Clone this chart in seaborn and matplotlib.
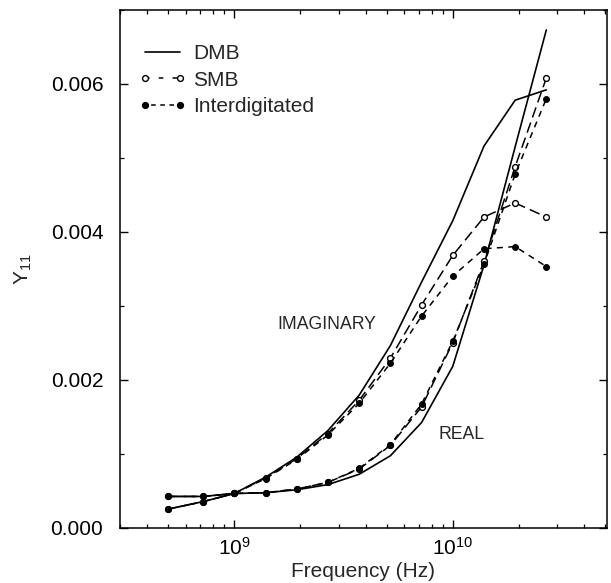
import numpy as np
import pandas as pd
import matplotlib
matplotlib.use("Agg")
import matplotlib.pyplot as plt
from matplotlib.lines import Line2D
from matplotlib.ticker import LogLocator, MultipleLocator, FormatStrFormatter, NullFormatter
import seaborn as sns

# ---- data ----
freq_hz = np.array([0.5, 0.72, 1.0, 1.39, 1.93, 2.68, 3.73, 5.18, 7.2, 10.0, 13.9, 19.3, 26.8]) * 1e9
dmb_real = np.array([0.42, 0.42, 0.46, 0.47, 0.51, 0.58, 0.72, 0.97, 1.42, 2.18, 3.55, 5.15, 6.73]) * 1e-3
dmb_imag = np.array([0.25, 0.35, 0.46, 0.68, 0.95, 1.31, 1.79, 2.46, 3.32, 4.15, 5.16, 5.78, 5.92]) * 1e-3
smb_real = np.array([0.42, 0.42, 0.46, 0.47, 0.52, 0.61, 0.79, 1.11, 1.63, 2.50, 3.60, 4.88, 6.08]) * 1e-3
smb_imag = np.array([0.25, 0.35, 0.46, 0.67, 0.93, 1.27, 1.72, 2.29, 3.01, 3.68, 4.20, 4.39, 4.20]) * 1e-3
int_real = np.array([0.42, 0.42, 0.46, 0.47, 0.52, 0.61, 0.80, 1.12, 1.67, 2.52, 3.56, 4.78, 5.80]) * 1e-3
int_imag = np.array([0.25, 0.35, 0.46, 0.66, 0.92, 1.25, 1.68, 2.22, 2.86, 3.40, 3.77, 3.80, 3.53]) * 1e-3

series_names = ["DMB", "SMB", "Interdigitated"]
y_ticks = [0.000, 0.002, 0.004, 0.006]
x_label = "Frequency (Hz)"
y_label = "Y$_{11}$"

sns.set_theme(style="ticks")
plt.rcParams["font.family"] = ["Liberation Sans", "DejaVu Sans"]
plt.rcParams["mathtext.fontset"] = "custom"
plt.rcParams["mathtext.rm"] = "Liberation Sans"
plt.rcParams["mathtext.it"] = "Liberation Sans:italic"
plt.rcParams["mathtext.bf"] = "Liberation Sans:bold"

fig = plt.figure(figsize=(6.11, 5.83), dpi=100)
ax = fig.add_axes([120 / 611, 1 - 527.5 / 583, (607 - 120) / 611, (527.5 - 10) / 583])

styles = {
    "DMB": dict(color="black", linewidth=1.2, linestyle="-"),
    "SMB": dict(color="black", linewidth=1.1, linestyle=(0, (7, 3.5)), marker="o",
                markersize=4.2, markerfacecolor="white", markeredgecolor="black", markeredgewidth=1.0),
    "Interdigitated": dict(color="black", linewidth=1.1, linestyle=(0, (4, 3.5)), marker="o",
                           markersize=4.2, markerfacecolor="black", markeredgecolor="black"),
}

data = {
    "DMB": (dmb_real, dmb_imag),
    "SMB": (smb_real, smb_imag),
    "Interdigitated": (int_real, int_imag),
}

for name in series_names:
    re_vals, im_vals = data[name]
    for part, vals in (("real", re_vals), ("imag", im_vals)):
        df = pd.DataFrame({"f": freq_hz, "y": vals})
        sns.lineplot(data=df, x="f", y="y", ax=ax, estimator=None, sort=False,
                     legend=False, **styles[name])

ax.set_xscale("log")
ax.set_xlim(3e8, 5.08e10)
ax.set_ylim(0, 0.007)
ax.set_yticks(y_ticks)
ax.yaxis.set_minor_locator(MultipleLocator(0.001))
ax.yaxis.set_major_formatter(FormatStrFormatter("%.3f"))
ax.xaxis.set_major_locator(LogLocator(base=10, numticks=10))
ax.xaxis.set_minor_locator(LogLocator(base=10, subs=np.arange(2, 10), numticks=20))
ax.xaxis.set_minor_formatter(NullFormatter())

ax.tick_params(which="both", direction="in", top=True, right=True, colors="black")
ax.tick_params(axis="y", which="major", length=6, width=1.0, pad=12, labelsize=15)
ax.tick_params(axis="x", which="major", length=6, width=1.0, pad=7, labelsize=15)
ax.tick_params(which="minor", length=3, width=0.9)
for s in ax.spines.values():
    s.set_linewidth(1.1)
    s.set_color("black")

ax.set_xlabel(x_label, fontsize=15, labelpad=2)
ax.set_ylabel(y_label, fontsize=15, labelpad=12)

ax.text(2.64e9, 2.75e-3, "IMAGINARY", ha="center", va="center", fontsize=12.7)
ax.text(1.1e10, 1.26e-3, "REAL", ha="center", va="center", fontsize=12.7)

handles = [Line2D([], [], **styles[n]) for n in series_names]
handles[1].set_linestyle((0, (3, 6)))
handles[2].set_linestyle((2, (3, 3)))
ax.legend(handles, series_names, loc="upper left", frameon=False, fontsize=15,
          numpoints=2, handlelength=2.3, handletextpad=0.3, labelspacing=0.35,
          borderaxespad=0.5, bbox_to_anchor=(0.0, 0.97))

fig.savefig("out.png", dpi=100)
